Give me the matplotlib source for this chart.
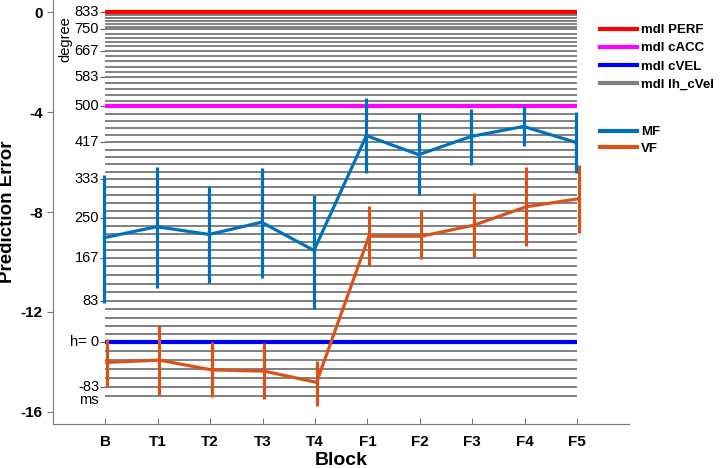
import matplotlib.pyplot as plt
import numpy as np
from matplotlib.lines import Line2D

plt.rcParams['font.family'] = ['Liberation Sans', 'DejaVu Sans']

blocks = ['B', 'T1', 'T2', 'T3', 'T4', 'F1', 'F2', 'F3', 'F4', 'F5']

# MF / VF means and error bar ends
mf_mean = [-9.03, -8.59, -8.90, -8.41, -9.54, -4.94, -5.70, -4.97, -4.57, -5.21]
mf_top = [-6.50, -6.19, -6.94, -6.22, -7.30, -3.43, -4.03, -3.87, -3.77, -4.00]
mf_bot = [-11.63, -11.06, -10.83, -10.63, -11.87, -6.43, -7.30, -6.10, -5.37, -6.43]

vf_mean = [-14.03, -13.94, -14.33, -14.38, -14.83, -8.97, -8.97, -8.53, -7.79, -7.47]
vf_top = [-13.10, -12.54, -13.20, -13.26, -13.97, -7.77, -7.93, -7.23, -6.21, -6.10]
vf_bot = [-15.00, -15.34, -15.43, -15.50, -15.79, -10.17, -9.90, -9.79, -9.37, -8.86]

# model lines
perf_level = 0.0
cacc_level = -3.77
cvel_level = -13.23
lh_levels = [0.0, -0.12, -0.24, -0.35, -0.46, -0.57, -0.68,
             -0.85, -1.02, -1.19, -1.36, -1.53,
             -1.74, -1.95, -2.17, -2.38, -2.59,
             -2.83, -3.06, -3.30, -3.53, -3.77,
             -4.06, -4.35, -4.63, -4.92, -5.21,
             -5.50, -5.79, -6.09, -6.38, -6.67,
             -6.99, -7.31, -7.62, -7.94, -8.26,
             -8.57, -8.89, -9.20, -9.52, -9.83,
             -10.18, -10.53, -10.87, -11.22, -11.57,
             -11.90, -12.23, -12.57, -12.90, -13.23,
             -13.59, -13.95, -14.31, -14.67, -15.03,
             -15.39]

# secondary labels (h in ms / degree)
deg_labels = ['833', '750', '667', '583', '500', '417', '333', '250', '167', '83', 'h= 0', '-83']
deg_pos = [0.0, -0.68, -1.53, -2.59, -3.77, -5.21, -6.67, -8.26, -9.83, -11.57, -13.23, -15.03]

yticks = [0, -4, -8, -12, -16]

c_mf = '#0072BD'
c_vf = '#D95319'

fig = plt.figure(figsize=(7.25, 4.68), dpi=100)
ax = fig.add_axes([53 / 725, 44 / 468, (629.4 - 53) / 725, 424 / 468])

x = np.arange(1, len(blocks) + 1)

ax.hlines(lh_levels, 1, 10, color='#808080', lw=1.4, zorder=1)
ax.hlines(perf_level, 1, 10, color='#FF0000', lw=3, zorder=2)
ax.hlines(cacc_level, 1, 10, color='#FF00FF', lw=3, zorder=2)
ax.hlines(cvel_level, 1, 10, color='#0000FF', lw=3, zorder=2)

ax.hlines(deg_pos, 0.9, 1.0, color='#606060', lw=0.8)
for lab, p in zip(deg_labels, deg_pos):
    ax.text(0.88, p, lab, ha='right', va='center', fontsize=10.5)
ax.text(0.88, -15.55, 'ms', ha='right', va='center', fontsize=10.5)
ax.text(0.24, -1.06, 'degree', ha='center', va='center', rotation=90, fontsize=10.5)

mf_mean = np.array(mf_mean)
vf_mean = np.array(vf_mean)
ax.errorbar(x - 0.02, mf_mean, yerr=[mf_mean - np.array(mf_bot), np.array(mf_top) - mf_mean],
            color=c_mf, lw=2.3, elinewidth=2.3, capsize=0, zorder=3)
ax.errorbar(x + 0.03, vf_mean, yerr=[vf_mean - np.array(vf_bot), np.array(vf_top) - vf_mean],
            color=c_vf, lw=2.3, elinewidth=2.3, capsize=0, zorder=3)

ax.set_xlim(0, 11)
ax.set_ylim(-16.5, 0.5)
ax.set_xticks(x)
ax.set_xticklabels(blocks, fontsize=11, fontweight='bold')
ax.set_yticks(yticks)
ax.set_yticklabels([str(t) for t in yticks], fontsize=11, fontweight='bold')
ax.tick_params(axis='x', direction='in', length=4, color='#777777', pad=8)
ax.tick_params(axis='y', direction='out', length=4, color='#777777')
for s in ['top', 'right']:
    ax.spines[s].set_visible(False)
for s in ['left', 'bottom']:
    ax.spines[s].set_color('#777777')
ax.set_xlabel('Block', fontsize=14, fontweight='bold', labelpad=2)
ax.set_ylabel('Prediction Error', fontsize=13.5, fontweight='bold')
ax.yaxis.set_label_coords(-0.065, 0.5)

h1 = [Line2D([], [], color='#FF0000', lw=3), Line2D([], [], color='#FF00FF', lw=3),
      Line2D([], [], color='#0000FF', lw=3), Line2D([], [], color='#808080', lw=3)]
fig.legend(h1, ['mdl PERF', 'mdl cACC', 'mdl cVEL', 'mdl lh_cVel'],
           loc='upper left', bbox_to_anchor=(600 / 725, 1 - 24 / 468),
           frameon=False, borderpad=0, borderaxespad=0, handlelength=2.8,
           handletextpad=0.3, labelspacing=0.45, prop={'weight': 'bold', 'size': 9.5})
h2 = [Line2D([], [], color=c_mf, lw=3), Line2D([], [], color=c_vf, lw=3)]
fig.legend(h2, ['MF', 'VF'], loc='upper left', bbox_to_anchor=(600 / 725, 1 - 126 / 468),
           frameon=False, borderpad=0, borderaxespad=0, handlelength=2.8,
           handletextpad=0.3, labelspacing=0.35, prop={'weight': 'bold', 'size': 9.5})

fig.savefig('out.png', dpi=100)
